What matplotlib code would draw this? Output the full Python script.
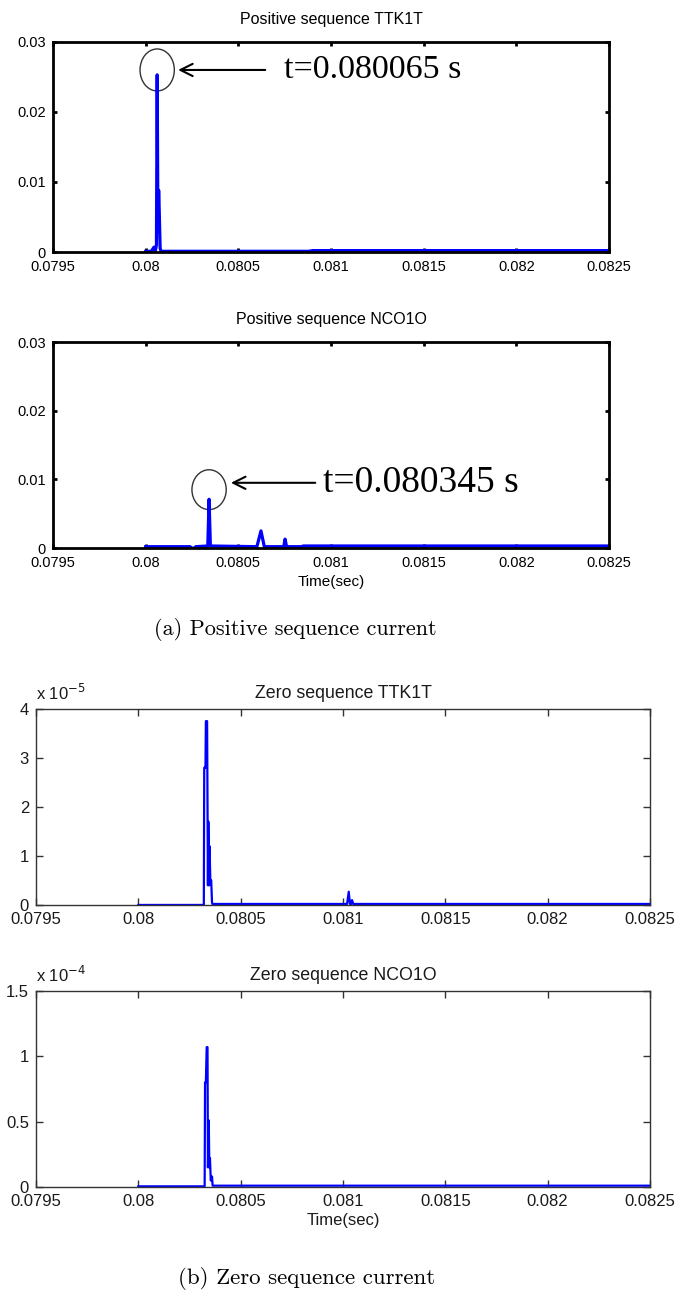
import matplotlib
matplotlib.use("Agg")
import matplotlib.pyplot as plt
from matplotlib.patches import Ellipse
from matplotlib.ticker import FormatStrFormatter

# positive sequence current (A)
pos_ttk_t = [0.08000, 0.08003, 0.080045, 0.080052, 0.080058, 0.080062, 0.080066, 0.080070,
             0.080073, 0.080078, 0.080084, 0.08010, 0.08088, 0.0809, 0.0825]
pos_ttk_i = [0.0001, 0.0001, 0.0007, 0.0002, 0.0010, 0.0253, 0.0030, 0.0088,
             0.0060, 0.0005, 0.0001, 0.0001, 0.0001, 0.0002, 0.0002]

pos_nco_t = [0.08000, 0.08024, 0.080242, 0.080268, 0.08027, 0.080335, 0.080342, 0.080349,
             0.08060, 0.080622, 0.080640, 0.080745, 0.080752, 0.080760, 0.08084, 0.08085, 0.0825]
pos_nco_i = [0.0002, 0.0002, 0.0, 0.0, 0.0002, 0.0003, 0.0071, 0.0003,
             0.0002, 0.0025, 0.0002, 0.0002, 0.0013, 0.0002, 0.0002, 0.0003, 0.0003]

# zero sequence current, TTK1T in 1e-5 A, NCO1O in 1e-4 A
zero_ttk_t = [0.08000, 0.08032, 0.080322, 0.080328, 0.08033, 0.080336, 0.08034, 0.080342,
              0.080346, 0.080348, 0.080352, 0.080356, 0.08036, 0.080362, 0.08102, 0.081028,
              0.081034, 0.08104, 0.081044, 0.08105, 0.0825]
zero_ttk_i = [0.0, 0.0, 2.8, 2.8, 3.75, 3.75, 0.4, 1.7,
              0.4, 1.2, 0.45, 0.5, 0.05, 0.02, 0.02, 0.27,
              0.02, 0.02, 0.1, 0.02, 0.02]

zero_nco_t = [0.08000, 0.080324, 0.080326, 0.080330, 0.080334, 0.080338, 0.08034, 0.080344,
              0.080347, 0.08035, 0.080354, 0.08036, 0.080363, 0.0825]
zero_nco_i = [0.005, 0.005, 0.8, 0.8, 1.07, 1.07, 0.15, 0.51,
              0.15, 0.22, 0.05, 0.08, 0.01, 0.01]

x_ticks = [0.0795, 0.08, 0.0805, 0.081, 0.0815, 0.082, 0.0825]

plt.rcParams["font.family"] = ["Liberation Sans", "DejaVu Sans"]

fig = plt.figure(figsize=(6.78, 12.95), dpi=100)


def style_top(ax, title):
    ax.set_xlim(0.0795, 0.0825)
    ax.set_ylim(0, 0.03)
    ax.set_xticks(x_ticks)
    ax.set_yticks([0, 0.01, 0.02, 0.03])
    ax.xaxis.set_major_formatter(FormatStrFormatter("%g"))
    ax.yaxis.set_major_formatter(FormatStrFormatter("%g"))
    for s in ax.spines.values():
        s.set_linewidth(2)
        s.set_color("black")
    ax.tick_params(direction="in", length=3, width=2, top=True, right=True,
                   labelsize=10.5)
    ax.tick_params(axis="x", pad=6)
    ax.tick_params(axis="y", pad=5)
    ax.set_title(title, fontsize=11.5, pad=13)


def style_bottom(ax, title, ymax, yticks, exponent):
    ax.set_xlim(0.0795, 0.0825)
    ax.set_ylim(0, ymax)
    ax.set_xticks(x_ticks)
    ax.set_yticks(yticks)
    ax.xaxis.set_major_formatter(FormatStrFormatter("%g"))
    ax.yaxis.set_major_formatter(FormatStrFormatter("%g"))
    for s in ax.spines.values():
        s.set_linewidth(1)
        s.set_color("#333333")
    ax.tick_params(direction="in", length=5, width=1, top=True, right=True,
                   labelsize=12, pad=5, colors="#333333", labelcolor="#1a1a1a")
    ax.set_title(title, fontsize=12.8, pad=8, color="#1a1a1a")
    ax.text(0, 1.03, r"x 10$^{%d}$" % exponent, transform=ax.transAxes,
            ha="left", va="bottom", fontsize=12, color="#1a1a1a")


def mark_peak(ax, cx, cy, w, h, arrow_from, arrow_to, text_x, label, size):
    ax.add_patch(Ellipse((cx, cy), w, h, fill=False, ec="#333333", lw=1))
    ax.annotate("", xy=(arrow_to, arrow_from[1]), xytext=arrow_from,
                arrowprops=dict(arrowstyle="->", lw=1.5, color="black", mutation_scale=22))
    ax.text(text_x, arrow_from[1], label, fontsize=size, family="Liberation Serif",
            va="center", ha="left")


ax1 = fig.add_axes([0.0782, 0.8054, 0.8201, 0.1622])
ax1.plot(pos_ttk_t, pos_ttk_i, color="blue", lw=2.3)
style_top(ax1, "Positive sequence TTK1T")
mark_peak(ax1, 0.080062, 0.026, 0.000185, 0.006, (0.08066, 0.026), 0.080160,
          0.080745, "t=0.080065 s", 24.5)

ax2 = fig.add_axes([0.0782, 0.5768, 0.8201, 0.1591])
ax2.plot(pos_nco_t, pos_nco_i, color="blue", lw=2.3)
style_top(ax2, "Positive sequence NCO1O")
ax2.set_xlabel("Time(sec)", fontsize=11, labelpad=3)
mark_peak(ax2, 0.080342, 0.0085, 0.000185, 0.0058, (0.08093, 0.0095), 0.080445,
          0.080955, "t=0.080345 s", 27)

fig.text(295 / 678, 1 - 629 / 1295, "(a) Positive sequence current", ha="center",
         va="center", fontsize=16, family="cmr10")

ax3 = fig.add_axes([0.0531, 0.3012, 0.9056, 0.1514])
ax3.plot(zero_ttk_t, zero_ttk_i, color="blue", lw=1.6)
style_bottom(ax3, "Zero sequence TTK1T", 4, [0, 1, 2, 3, 4], -5)

ax4 = fig.add_axes([0.0531, 0.0834, 0.9056, 0.1514])
ax4.plot(zero_nco_t, zero_nco_i, color="blue", lw=1.6)
style_bottom(ax4, "Zero sequence NCO1O", 1.5, [0, 0.5, 1, 1.5], -4)
ax4.set_xlabel("Time(sec)", fontsize=12, labelpad=3, color="#1a1a1a")

fig.text(307 / 678, 1 - 1278 / 1295, "(b) Zero sequence current", ha="center",
         va="center", fontsize=16.5, family="cmr10")

fig.savefig("out.png", dpi=100)
